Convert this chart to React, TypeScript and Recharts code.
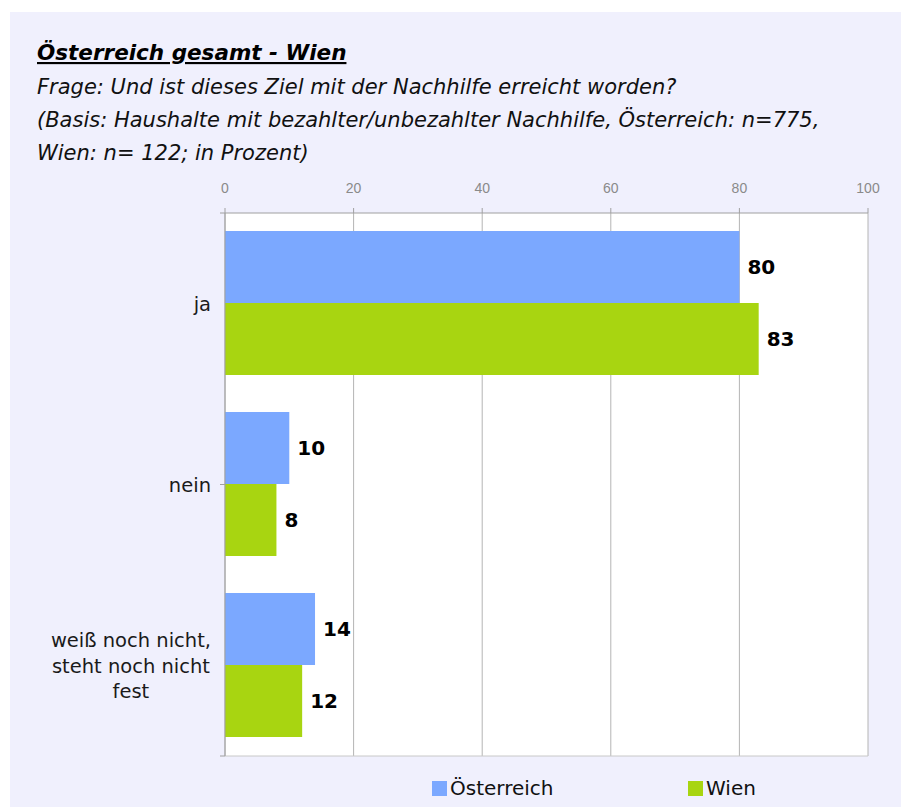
import { Bar, BarChart, CartesianGrid, LabelList, XAxis, YAxis } from 'recharts';

const categories = ['ja', 'nein', 'weiß noch nicht, steht noch nicht fest'];
const categoryLines: string[][] = [['ja'], ['nein'], ['weiß noch nicht,', 'steht noch nicht', 'fest']];
const oesterreich = [80, 10, 14];
const wien = [83, 8, 12];
const xTicks = [0, 20, 40, 60, 80, 100];
const seriesNames = ['Österreich', 'Wien'];
const seriesColors = ['#7ba8ff', '#a8d511'];

const titleText = 'Österreich gesamt - Wien';
const subtitleLines = [
  'Frage: Und ist dieses Ziel mit der Nachhilfe erreicht worden?',
  '(Basis: Haushalte mit bezahlter/unbezahlter Nachhilfe, Österreich: n=775,',
  'Wien: n= 122; in Prozent)',
];

const data = categories.map((cat, i) => ({
  cat,
  at: oesterreich[i],
  wien: wien[i],
}));

const labelFont = '19.5px "DejaVu Sans"';
let ctx: CanvasRenderingContext2D | null = null;
function measure(text: string): number {
  if (!ctx) ctx = document.createElement('canvas').getContext('2d');
  if (!ctx) return text.length * 10;
  ctx.font = labelFont;
  return ctx.measureText(text).width;
}

function CategoryTick(props: any) {
  const { x, y, payload } = props;
  const idx = categories.indexOf(payload.value);
  const lines = categoryLines[idx] ?? [payload.value];
  const right = x - 5;
  const blockW = Math.max(...lines.map(measure));
  const lh = 25.5;
  const startY = y - ((lines.length - 1) * lh) / 2 + 7;
  return (
    <g>
      {lines.map((line, i) => (
        <text
          key={line}
          x={lines.length > 1 ? right - blockW / 2 : right}
          y={startY + i * lh}
          textAnchor={lines.length > 1 ? 'middle' : 'end'}
          fill="#1a1a1a"
          style={{ font: labelFont }}
        >
          {line}
        </text>
      ))}
    </g>
  );
}

const emptyTick = () => <g />;

export default function App() {
  return (
    <div style={{ position: 'absolute', left: 0, top: 0, width: 901, height: 807, background: '#fff' }}>
      <div style={{ position: 'absolute', left: 10, top: 12, width: 891, height: 795, background: '#f0f0fd' }} />
      <svg width={901} height={180} style={{ position: 'absolute', left: 0, top: 0 }}>
        <text
          x={37}
          y={60}
          fill="#000"
          style={{
            font: 'italic bold 21.5px "DejaVu Sans"',
            textDecoration: 'underline',
          }}
        >
          {titleText}
        </text>
        {subtitleLines.map((line, i) => (
          <text key={i} x={37} y={94 + i * 33} fill="#111" style={{ font: 'italic 21px "DejaVu Sans"' }}>
            {line}
          </text>
        ))}
      </svg>
      <div style={{ position: 'absolute', left: 0, top: 0 }}>
        <BarChart
          width={901}
          height={807}
          data={data}
          layout="vertical"
          margin={{ top: 183, right: 33, bottom: 50, left: 0 }}
          barCategoryGap="10%"
          barGap={0}
        >
          <CartesianGrid
            xAxisId="top"
            yAxisId="cat"
            horizontal={false}
            stroke="#b4b4b4"
            fill="#ffffff"
          />
          <XAxis
            xAxisId="top"
            type="number"
            orientation="top"
            domain={[0, 100]}
            ticks={xTicks}
            height={30}
            axisLine={{ stroke: '#a0a0a0' }}
            tickLine={{ stroke: '#a0a0a0' }}
            tickSize={5}
            tickMargin={15}
            tick={{ fill: '#8a8a8a', fontSize: 14, fontFamily: '"Liberation Sans", Arial' }}
          />
          <XAxis
            xAxisId="bottom"
            type="number"
            orientation="bottom"
            domain={[0, 100]}
            ticks={xTicks}
            height={1}
            axisLine={{ stroke: '#c8c8c8' }}
            tickLine={false}
            tick={emptyTick}
          />
          <YAxis
            yAxisId="aEdge"
            type="number"
            domain={[0, 3]}
            ticks={[0, 1, 2, 3]}
            width={1}
            axisLine={{ stroke: '#a0a0a0' }}
            tickLine={{ stroke: '#a0a0a0' }}
            tickSize={5}
            tick={emptyTick}
          />
          <YAxis
            yAxisId="cat"
            type="category"
            dataKey="cat"
            width={224}
            axisLine={false}
            tickLine={false}
            tick={<CategoryTick />}
            interval={0}
          />
          <Bar xAxisId="top" yAxisId="cat" dataKey="at" name={seriesNames[0]} fill={seriesColors[0]} isAnimationActive={false}>
            <LabelList
              dataKey="at"
              position="right"
              offset={8}
              fill="#000"
              style={{ font: 'bold 20px "DejaVu Sans"' }}
            />
          </Bar>
          <Bar xAxisId="top" yAxisId="cat" dataKey="wien" name={seriesNames[1]} fill={seriesColors[1]} isAnimationActive={false}>
            <LabelList
              dataKey="wien"
              position="right"
              offset={8}
              fill="#000"
              style={{ font: 'bold 20px "DejaVu Sans"' }}
            />
          </Bar>
        </BarChart>
      </div>
      <div
        style={{
          position: 'absolute',
          top: 776,
          left: 0,
          width: 901,
          font: '20px "DejaVu Sans"',
          color: '#111',
        }}
      >
        {seriesNames.map((name, i) => (
          <div
            key={name}
            style={{ position: 'absolute', left: i === 0 ? 432 : 688, top: 0, display: 'flex', alignItems: 'center', whiteSpace: 'nowrap' }}
          >
            <span style={{ display: 'inline-block', width: 15, height: 15, background: seriesColors[i], marginRight: 3 }} />
            {name}
          </div>
        ))}
      </div>
    </div>
  );
}
